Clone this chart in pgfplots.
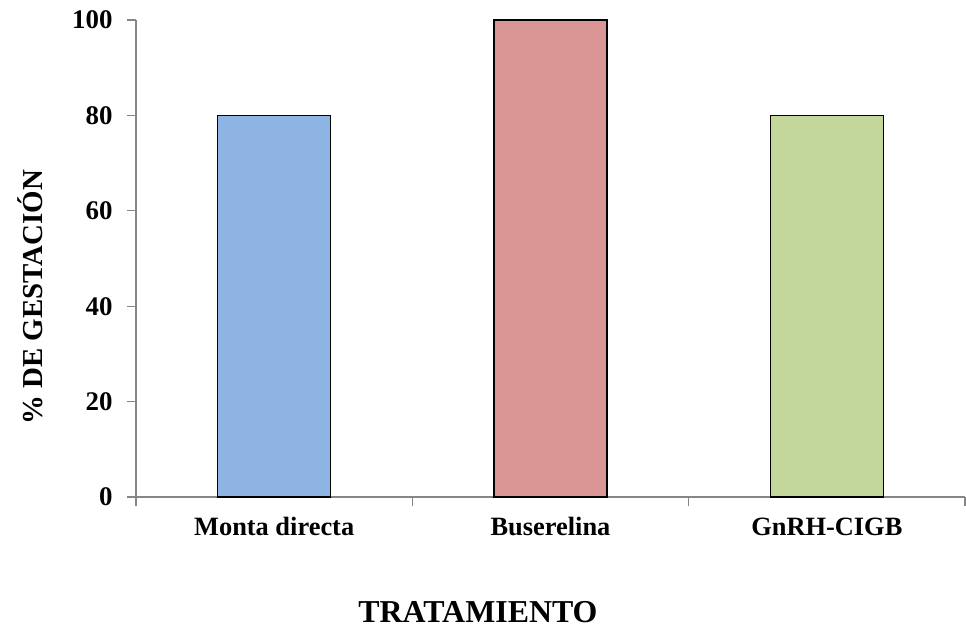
\documentclass[border=0pt]{standalone}
\usepackage{pgfplots}
\pgfplotsset{compat=1.18}
\usepackage{fontspec}
\setmainfont{Liberation Serif}
\definecolor{cblue}{HTML}{8EB4E3}
\definecolor{cred}{HTML}{D99694}
\definecolor{cgreen}{HTML}{C3D69B}
\definecolor{axgray}{HTML}{868686}
\begin{document}
\begin{tikzpicture}
\useasboundingbox (0,0) rectangle (966bp,628bp);
\begin{axis}[
  at={(136bp,131bp)}, anchor=south west,
  scale only axis, width=829bp, height=477bp,
  xmin=-0.5, xmax=2.5, ymin=0, ymax=100,
  axis lines*=left,
  axis line style={axgray, line width=1.2pt},
  every tick/.style={axgray, line width=1.2pt},
  tick align=outside,
  major tick length=9bp,
  ytick={0,20,40,60,80,100},
  xtick={-0.5,0.5,1.5,2.5},
  xticklabels={},
  extra x ticks={0,1,2},
  extra x tick labels={Monta directa, Buserelina, GnRH-CIGB},
  extra x tick style={major tick length=0pt},
  /pgf/number format/assume math mode=true,
  yticklabel style={font=\fontsize{27}{30}\selectfont\bfseries, xshift=-11bp},
  xticklabel style={font=\fontsize{26.5}{30}\selectfont\bfseries, yshift=-17bp, text depth=0.25em},
  xlabel={TRATAMIENTO},
  ylabel={\% DE GESTACIÓN},
  xlabel style={font=\fontsize{32}{34}\selectfont\bfseries, at={(axis description cs:0.4125,-0.241)}, anchor=center},
  ylabel style={font=\fontsize{29}{32}\selectfont\bfseries, at={(axis description cs:-0.1277,0.419)}, anchor=center},
  clip=false,
]
\addplot[ybar, bar width=113bp, draw=black, line width=1.3pt, fill=cblue] coordinates {(0,80)};
\addplot[ybar, bar width=113bp, draw=black, line width=1.3pt, fill=cred] coordinates {(1,100)};
\addplot[ybar, bar width=113bp, draw=black, line width=1.3pt, fill=cgreen] coordinates {(2,80)};
\end{axis}
\end{tikzpicture}
\end{document}
